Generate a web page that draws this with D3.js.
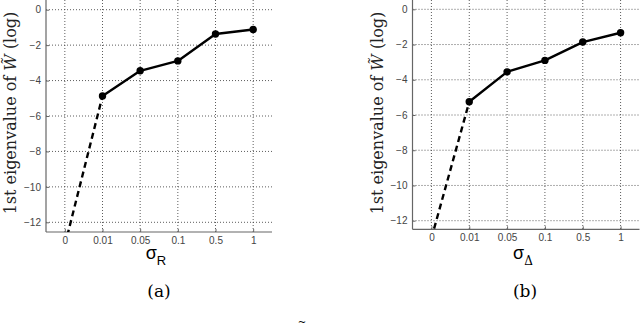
<!DOCTYPE html>
<html><head><meta charset="utf-8">
<script src="https://cdn.jsdelivr.net/npm/d3@7"></script>
<style>body{margin:0;background:#fff}svg{display:block}</style>
</head><body>
<svg id="c" width="640" height="327"></svg>
<script>
const categories = ["0", "0.01", "0.05", "0.1", "0.5", "1"];
const yTicks = [0, -2, -4, -6, -8, -10, -12];
const valuesA = [-13.3, -4.87, -3.45, -2.89, -1.37, -1.12];
const valuesB = [-13.0, -5.25, -3.55, -2.90, -1.86, -1.33];
const panelLabels = ["(a)", "(b)"];
const subscripts = ["R", "Δ"];

const svg = d3.select("#c");
const panels = [
  {vals: valuesA, x0: 46, x1: 272, y0: 9.7, y12: 222.3, yb: 232, sub: subscripts[0], lab: panelLabels[0], ylx: 16, subSerif:false, labX: 159},
  {vals: valuesB, x0: 412.5, x1: 639.5, y0: 9.3, y12: 220.7, yb: 229.3, sub: subscripts[1], lab: panelLabels[1], ylx: 383, subSerif:true, labX: 525}
];

panels.forEach((p, i) => {
  const g = svg.append("g");
  const x = d3.scalePoint().domain(categories).range([p.x0, p.x1]).padding(0.5);
  const y = d3.scaleLinear().domain([0, -12]).range([p.y0, p.y12]);
  const clipId = "clip" + i;
  svg.append("clipPath").attr("id", clipId).append("rect")
    .attr("x", p.x0).attr("y", 0).attr("width", p.x1 - p.x0).attr("height", p.yb);

  // grid
  g.selectAll(".gy").data(yTicks).enter().append("line")
    .attr("x1", p.x0).attr("x2", p.x1).attr("y1", d => y(d)).attr("y2", d => y(d))
    .attr("stroke", "#333").attr("stroke-width", 0.8).attr("stroke-dasharray", "1,2");
  g.selectAll(".gx").data(categories).enter().append("line")
    .attr("x1", d => x(d)).attr("x2", d => x(d)).attr("y1", 0).attr("y2", p.yb)
    .attr("stroke", "#333").attr("stroke-width", 0.8).attr("stroke-dasharray", "1,2");

  // axes
  const ax = g.append("g").attr("transform", `translate(0,${p.yb})`)
    .call(d3.axisBottom(x).tickSize(-3).tickPadding(5));
  const ay = g.append("g").attr("transform", `translate(${p.x0},0)`)
    .call(d3.axisLeft(y).tickValues(yTicks).tickSize(-3).tickPadding(5).tickFormat(d => d3.format("")(d).replace("-", "−")));
  [ax, ay].forEach(a => {
    a.select(".domain").attr("stroke", "#666").attr("stroke-width", 1.2);
    a.selectAll(".tick line").attr("stroke", "#666");
    a.selectAll("text").attr("fill", "#444").attr("font-family", "Liberation Sans, Arial, sans-serif").attr("font-size", 10);
  });
  ax.select(".domain").attr("d", `M${p.x0},0H${p.x1}`);
  ay.select(".domain").attr("d", `M0,0V${p.yb}`);

  const pts = p.vals.map((v, j) => [x(categories[j]), y(v)]);
  const line = d3.line();
  const plot = g.append("g").attr("clip-path", `url(#${clipId})`);
  plot.append("path").attr("d", line(pts.slice(0, 2))).attr("fill", "none")
    .attr("stroke", "#000").attr("stroke-width", 2.4).attr("stroke-dasharray", "6,4");
  plot.append("path").attr("d", line(pts.slice(1))).attr("fill", "none")
    .attr("stroke", "#000").attr("stroke-width", 2.4).attr("stroke-linejoin", "round");
  plot.selectAll("circle").data(pts.slice(1)).enter().append("circle")
    .attr("cx", d => d[0]).attr("cy", d => d[1]).attr("r", 3.7).attr("fill", "#000");

  // x label
  const cx = (p.x0 + p.x1) / 2 - 3;
  const xl = g.append("text").attr("x", cx).attr("y", 259).attr("text-anchor", "middle")
    .attr("font-family", "Liberation Sans, Arial, sans-serif").attr("font-size", 18).attr("fill", "#000");
  xl.append("tspan").text("σ");
  xl.append("tspan").attr("dy", 6).attr("font-size", p.subSerif ? 12 : 13)
    .attr("font-family", p.subSerif ? "DejaVu Serif, serif" : "Liberation Sans, Arial, sans-serif").text(p.sub);

  // panel label
  g.append("text").attr("x", p.labX).attr("y", 297).attr("text-anchor", "middle")
    .attr("font-family", "DejaVu Serif, Liberation Serif, serif").attr("font-size", 17).text(p.lab);

  // y label
  const yl = g.append("text").attr("transform", `translate(${p.ylx},113) rotate(-90)`)
    .attr("text-anchor", "middle").attr("font-family", "DejaVu Serif, Liberation Serif, serif")
    .attr("font-size", 16).attr("fill", "#222");
  yl.append("tspan").text("1st eigenvalue of ");
  yl.append("tspan").attr("font-style", "italic").text("W̃");
  yl.append("tspan").text(" (log)");
});

// cropped caption fragment
svg.append("text").attr("x", 302).attr("y", 325).attr("text-anchor", "middle")
  .attr("font-family", "DejaVu Serif, serif").attr("font-size", 10).text("~");
</script>
</body></html>
